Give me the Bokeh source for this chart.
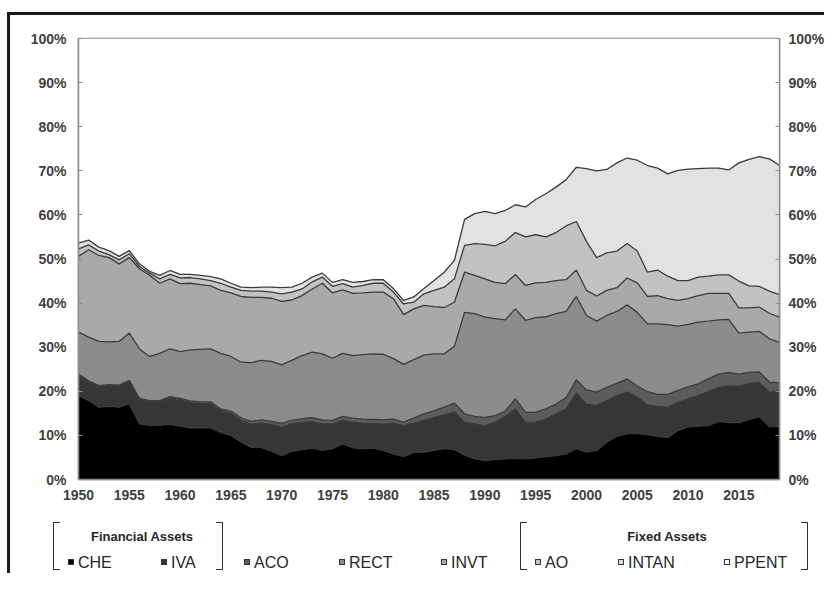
import numpy as np
from bokeh.plotting import figure
from bokeh.models import ColumnDataSource, Range1d, LinearAxis, PrintfTickFormatter, FixedTicker, Div
from bokeh.layouts import column, row
from bokeh.embed import file_html
from bokeh.resources import INLINE

years = list(range(1950, 2020))

CHE = [19.0, 17.9, 16.4, 16.6, 16.4, 17.2, 12.6, 12.3, 12.3, 12.5,
       12.1, 11.7, 11.7, 11.7, 10.7, 10.0, 8.5, 7.3, 7.3, 6.4,
       5.4, 6.4, 6.8, 7.1, 6.6, 7.0, 8.1, 7.2, 7.0, 7.1,
       6.6, 5.8, 5.2, 6.2, 6.2, 6.6, 7.0, 6.8, 5.5, 4.7,
       4.3, 4.5, 4.7, 4.8, 4.7, 4.9, 5.2, 5.4, 5.8, 7.0,
       6.2, 6.6, 8.5, 9.8, 10.4, 10.4, 10.2, 9.8, 9.5, 11.1,
       11.9, 12.1, 12.2, 13.2, 12.9, 12.9, 13.6, 14.3, 12.0, 12.0]
IVA = [4.6, 4.2, 4.6, 4.6, 4.7, 5.0, 5.5, 5.3, 5.3, 6.0,
       6.0, 5.7, 5.5, 5.5, 4.9, 5.0, 4.9, 5.2, 5.5, 6.1,
       6.5, 6.2, 6.2, 6.0, 6.0, 5.6, 5.3, 5.8, 5.8, 5.6,
       6.0, 7.0, 7.0, 6.6, 7.2, 7.5, 7.7, 8.5, 7.5, 7.9,
       7.9, 8.5, 9.6, 11.2, 8.3, 8.1, 8.5, 9.5, 10.2, 12.6,
       10.9, 10.2, 9.4, 9.2, 9.5, 8.3, 6.7, 6.8, 6.9, 6.4,
       6.4, 6.9, 7.8, 7.7, 8.3, 8.2, 8.2, 7.7, 7.8, 8.2]
ACO = [0.3, 0.3, 0.3, 0.3, 0.3, 0.3, 0.3, 0.3, 0.3, 0.3,
       0.3, 0.4, 0.4, 0.4, 0.4, 0.5, 0.6, 0.7, 0.7, 0.7,
       0.8, 0.8, 0.8, 0.9, 0.9, 0.8, 0.9, 0.9, 0.9, 0.9,
       0.9, 0.9, 0.8, 1.1, 1.5, 1.5, 1.7, 2.0, 1.9, 1.7,
       1.9, 1.5, 1.2, 2.3, 2.2, 2.2, 2.3, 2.2, 2.6, 3.0,
       3.2, 3.0, 3.0, 2.8, 2.9, 2.5, 3.0, 2.7, 2.9, 2.7,
       2.7, 2.7, 2.8, 3.0, 3.1, 2.8, 2.5, 2.4, 2.3, 1.7]
RECT = [9.5, 9.9, 10.0, 9.7, 9.9, 10.7, 11.2, 10.0, 10.7, 10.8,
        10.6, 11.6, 11.9, 12.0, 12.6, 12.4, 12.6, 13.3, 13.5, 13.6,
        13.3, 13.6, 14.3, 14.9, 15.0, 14.1, 14.3, 14.2, 14.6, 14.9,
        14.9, 13.7, 13.1, 13.3, 13.3, 12.9, 12.1, 12.9, 23.0, 23.3,
        22.7, 22.0, 20.7, 20.4, 20.9, 21.5, 20.9, 20.5, 19.5, 18.9,
        16.9, 16.1, 16.3, 16.3, 16.8, 16.7, 15.4, 16.0, 15.8, 14.6,
        14.2, 14.0, 13.1, 12.3, 12.0, 9.3, 9.1, 9.2, 9.8, 9.2]
INVT = [17.2, 19.8, 19.5, 19.1, 17.6, 17.1, 18.2, 18.4, 15.9, 15.9,
        15.4, 15.1, 14.7, 14.3, 14.3, 14.4, 14.9, 14.8, 14.3, 14.3,
        14.4, 13.7, 13.6, 14.3, 16.0, 14.8, 14.4, 14.1, 14.0, 14.0,
        14.1, 13.6, 11.3, 11.5, 11.3, 10.7, 10.5, 10.0, 9.1, 8.7,
        8.7, 8.2, 8.2, 7.8, 7.9, 7.9, 7.8, 7.5, 7.2, 6.0,
        5.7, 5.7, 5.7, 5.4, 6.1, 6.7, 6.2, 6.4, 5.9, 5.8,
        5.8, 6.0, 6.3, 6.0, 5.9, 5.7, 5.5, 5.5, 5.8, 5.7]
AO = [1.7, 1.1, 1.0, 0.7, 0.9, 0.9, 0.5, 0.5, 1.0, 1.0,
      1.3, 1.3, 1.3, 1.2, 1.6, 1.3, 1.4, 1.4, 1.4, 1.4,
      1.7, 1.8, 1.5, 1.6, 1.4, 1.5, 1.4, 1.4, 1.7, 2.0,
      2.0, 1.5, 2.4, 1.5, 2.6, 3.7, 4.6, 5.3, 6.1, 7.2,
      7.8, 8.3, 9.6, 9.5, 11.0, 10.9, 10.3, 10.9, 12.2, 11.0,
      11.1, 8.7, 8.5, 8.3, 7.8, 7.2, 5.5, 5.8, 5.1, 4.5,
      4.1, 4.2, 3.9, 4.2, 4.2, 6.1, 5.0, 4.7, 5.0, 5.1]
INTAN = [1.3, 1.1, 0.9, 0.9, 0.8, 0.7, 0.6, 0.4, 0.8, 0.9,
         0.8, 0.7, 0.8, 0.9, 1.0, 0.9, 0.7, 0.8, 0.9, 1.1,
         1.4, 1.1, 1.3, 1.1, 0.9, 0.9, 0.9, 1.1, 0.9, 0.8,
         0.8, 0.8, 0.8, 1.2, 1.2, 2.2, 3.4, 4.2, 5.9, 6.8,
         7.5, 7.3, 7.0, 6.3, 6.8, 8.0, 9.8, 10.3, 10.5, 12.3,
         16.5, 19.7, 18.9, 20.0, 19.4, 20.6, 24.2, 23.1, 23.2, 25.0,
         25.3, 24.6, 24.5, 24.2, 23.8, 26.8, 28.7, 29.4, 30.0, 29.3]
PPENT = [46.4, 45.7, 47.3, 48.1, 49.4, 48.1, 51.1, 52.8, 53.7, 52.6,
         53.5, 53.5, 53.7, 54.0, 54.5, 55.5, 56.4, 56.5, 56.4, 56.4,
         56.5, 56.4, 55.5, 54.1, 53.2, 55.3, 54.7, 55.3, 55.1, 54.7,
         54.7, 56.7, 59.4, 58.6, 56.7, 54.9, 53.0, 50.3, 41.0, 39.7,
         39.2, 39.7, 39.0, 37.7, 38.2, 36.5, 35.2, 33.7, 32.0, 29.2,
         29.5, 30.0, 29.7, 28.2, 27.1, 27.6, 28.8, 29.4, 30.7, 29.9,
         29.6, 29.5, 29.4, 29.4, 29.8, 28.2, 27.4, 26.8, 27.3, 28.8]

series = ["CHE", "IVA", "ACO", "RECT", "INVT", "AO", "INTAN", "PPENT"]
groups = ["Financial Assets", "Fixed Assets"]
colors = ["#000000", "#363636", "#5c5c5c", "#8c8c8c", "#a9a9a9", "#c2c2c2", "#e2e2e2", "#ffffff"]
x_ticks = [1950, 1955, 1960, 1965, 1970, 1975, 1980, 1985, 1990, 1995, 2000, 2005, 2010, 2015]
y_ticks = [0, 10, 20, 30, 40, 50, 60, 70, 80, 90, 100]

src = ColumnDataSource(dict(year=years, CHE=CHE, IVA=IVA, ACO=ACO, RECT=RECT,
                            INVT=INVT, AO=AO, INTAN=INTAN, PPENT=PPENT))

FONT = "Liberation Sans"
AX = "#8c8c8c"
LBL = "#404040"

p = figure(frame_width=701, frame_height=441, x_range=Range1d(1950, 2019), y_range=Range1d(0, 100),
           output_backend="svg", toolbar_location=None,
           min_border_left=68, min_border_right=45, min_border_top=23, min_border_bottom=27)
p.varea_stack(stackers=series, x="year", color=colors, source=src)
p.vline_stack(stackers=series[:-1], x="year", color="#3a3a3a", line_width=1.3, source=src)

p.xgrid.visible = False
p.ygrid.visible = False
p.outline_line_color = AX
p.outline_line_width = 1.5
p.background_fill_color = "white"
p.border_fill_color = "white"

right = LinearAxis()
p.add_layout(right, "right")

for ax, so in [(p.yaxis[0], 12), (right, 9)]:
    ax.ticker = FixedTicker(ticks=y_ticks)
    ax.formatter = PrintfTickFormatter(format="%d%%")
    ax.major_tick_in = 4
    ax.major_tick_out = 0
    ax.minor_tick_line_color = None
    ax.major_label_standoff = so
    ax.axis_line_color = AX
    ax.axis_line_width = 1.5
    ax.major_tick_line_color = AX
    ax.major_label_text_font = FONT
    ax.major_label_text_font_size = "14px"
    ax.major_label_text_font_style = "bold"
    ax.major_label_text_color = LBL

xa = p.xaxis[0]
xa.ticker = FixedTicker(ticks=x_ticks)
xa.major_tick_in = 0
xa.major_tick_out = 0
xa.minor_tick_line_color = None
xa.major_label_standoff = 10
xa.axis_line_color = AX
xa.axis_line_width = 1.5
xa.major_label_text_font = FONT
xa.major_label_text_font_size = "14px"
xa.major_label_text_font_style = "bold"
xa.major_label_text_color = LBL

# ---- legend as an HTML block; block top-left sits at picture (10, 506) ----
LEG_W, LEG_H = 814, 67
OX, OY = 10, 506
row_y = 563 - OY
sq_cx = [c - OX for c in [72, 165, 248, 343, 445, 539, 622, 728]]
parts = [f'<div style="position:relative;width:{LEG_W}px;height:{LEG_H}px;overflow:hidden;'
         'font-family:\'Liberation Sans\',Arial,sans-serif;color:#262626;">']
for name, col, cx in zip(series, colors, sq_cx):
    parts.append(f'<div style="position:absolute;left:{cx-4}px;top:{row_y-4}px;width:6px;height:6px;'
                 f'background:{col};border:1px solid #333;"></div>')
    parts.append(f'<div style="position:absolute;left:{cx+6}px;top:{row_y-9}px;font-size:16px;'
                 f'line-height:18px;white-space:nowrap;">{name}</div>')
for title, cx in zip(groups, [142 - OX, 667 - OX]):
    parts.append(f'<div style="position:absolute;left:{cx-80}px;top:{537-OY-8}px;width:160px;text-align:center;'
                 f'font-size:13px;font-weight:bold;line-height:16px;">{title}</div>')
bt, bh, bw = 522 - OY, 48, 7
for bx, side in [(53, "left"), (216, "right"), (520, "left"), (801, "right")]:
    parts.append(f'<div style="position:absolute;left:{bx-OX}px;top:{bt}px;width:{bw}px;height:{bh}px;'
                 f'border-top:1.6px solid #333;border-bottom:1.6px solid #333;border-{side}:1.6px solid #333;"></div>')
parts.append('</div>')
legend = Div(text="".join(parts), width=LEG_W, height=LEG_H, margin=(0, 0, 0, 0))

# ---- outer black frame (top and left edges) ----
H = 491 + LEG_H
left_pad = Div(text="", width=7, height=12 + 3 + H, margin=(0, 0, 0, 0))
top_pad = Div(text="", width=817, height=12, margin=(0, 0, 0, 0))
top_bar = Div(text="", width=817, height=3, margin=(0, 0, 0, 0), styles={"background-color": "#1a1a1a"})
left_bar = Div(text="", width=3, height=H, margin=(0, 0, 0, 0), styles={"background-color": "#1a1a1a"})

layout = row(left_pad,
             column(top_pad, top_bar, row(left_bar, column(p, legend, spacing=0), spacing=0), spacing=0),
             spacing=0)

open("out.html", "w").write(file_html(layout, INLINE))
